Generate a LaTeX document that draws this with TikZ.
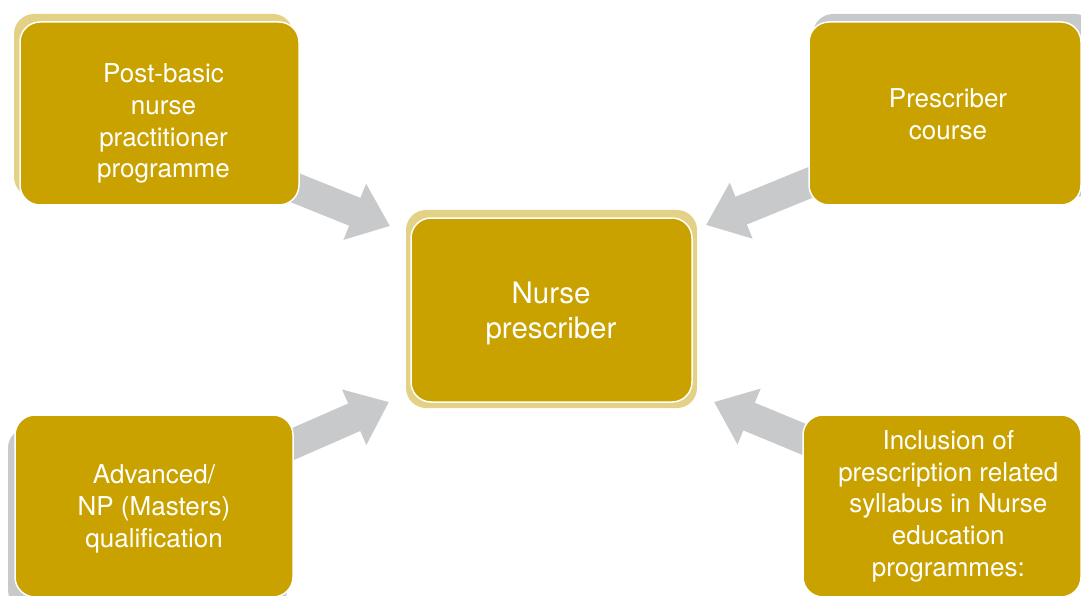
\documentclass[tikz,border=0pt]{standalone}
\usepackage{fontspec}
\setmainfont{TeX Gyre Heros}
\usetikzlibrary{arrows.meta}
\definecolor{gold}{HTML}{C9A200}
\definecolor{lightgold}{HTML}{E3D185}
\definecolor{arrowgray}{HTML}{C8C9CB}
\begin{document}
\begin{tikzpicture}[x=1pt,y=-1pt,
  box/.style={draw=white, line width=1.5pt, fill=gold, rounded corners=20pt, inner sep=0pt, outer sep=0pt},
  shadowgold/.style={fill=lightgold, rounded corners=20pt},
  shadowgray/.style={fill=arrowgray, rounded corners=20pt},
  txt/.style={text=white, align=center, font=\fontsize{26}{31.7}\selectfont, inner sep=0pt},
  bigtxt/.style={text=white, align=center, font=\fontsize{29.5}{35}\selectfont, inner sep=0pt},
  arr/.style={draw=arrowgray, line width=30pt, -{Triangle[width=58pt,length=38pt]}}
]
\useasboundingbox (0,0) rectangle (1081,596);
% arrow end points
\coordinate (tlTail) at (260,173.6);
\coordinate (tlTip) at (390,226);
\coordinate (trTail) at (836,172);
\coordinate (trTip) at (706,225);
\coordinate (blTail) at (261,458);
\coordinate (blTip) at (389,402);
\coordinate (brTail) at (843,455.5);
\coordinate (brTip) at (714,402);
\draw[arr] (tlTail) -- (tlTip);
\draw[arr] (trTail) -- (trTip);
\draw[arr] (blTail) -- (blTip);
\draw[arr] (brTail) -- (brTip);
% shadows
\fill[shadowgold] (14,14) rectangle (293,197);
\fill[shadowgray] (813,14) rectangle (1095,197);
\fill[shadowgold] (406,210) rectangle (697,408);
\fill[shadowgray] (8,428) rectangle (287,610);
% boxes
\node[box, minimum width=279pt, minimum height=183pt] (tl) at (159.5,113.5) {};
\node[box, minimum width=272pt, minimum height=183pt] (tr) at (945,113.5) {};
\node[box, minimum width=281pt, minimum height=184pt] (c) at (551.5,310) {};
\node[box, minimum width=278pt, minimum height=182pt] (bl) at (154,506) {};
\node[box, minimum width=278pt, minimum height=182pt] (br) at (942,506) {};
% texts
\node[txt] (tlText) at (163.5,123.6) {Post-basic\\nurse\\practitioner\\programme};
\node[txt] (trText) at (948,114.4) {Prescriber\\course};
\node[bigtxt] (cText) at (551,313.5) {Nurse\\prescriber};
\node[txt] (blText) at (154,508.8) {Advanced/\\NP (Masters)\\qualification};
\node[txt] (brText) at (948.3,506.2) {Inclusion of\\prescription related\\syllabus in Nurse\\education\\programmes:};
\end{tikzpicture}
\end{document}
